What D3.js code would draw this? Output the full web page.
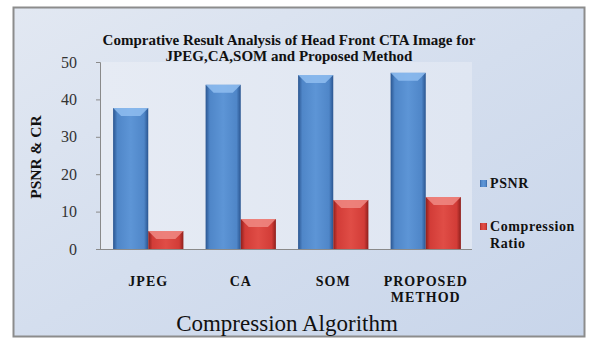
<html>
<head>
    <style>
        body { margin: 0; background: #fff; }
        svg { display: block; }
        svg text { font-family: "Liberation Serif", "Times New Roman", "DejaVu Serif", serif; }
    </style>
</head>
<body>
    <div id="chart"></div>
    <script src="https://cdn.jsdelivr.net/npm/d3@7"></script>
    <script>
        const categories = ["JPEG", "CA", "SOM", "PROPOSED METHOD"];
        const psnr = [37.7, 43.9, 46.5, 47.1];
        const compressionRatio = [4.8, 8.0, 13.1, 13.9];
        const yTicks = [0, 10, 20, 30, 40, 50];
        const seriesNames = ["PSNR", "Compression Ratio"];

        const width = 592, height = 343;
        const plot = { left: 100, right: 472, top: 62, bottom: 249 };
        const serif = "Liberation Serif, Times New Roman, DejaVu Serif, serif";

        const svg = d3.select("#chart").append("svg")
            .attr("width", width).attr("height", height);

        const defs = svg.append("defs");
        const bg = defs.append("linearGradient").attr("id", "bg")
            .attr("x1", 0).attr("y1", 0).attr("x2", 1).attr("y2", 1);
        bg.append("stop").attr("offset", 0).attr("stop-color", "#e2e8f2");
        bg.append("stop").attr("offset", 0.5).attr("stop-color", "#d4deee");
        bg.append("stop").attr("offset", 1).attr("stop-color", "#c8d5ea");

        const pbg = defs.append("linearGradient").attr("id", "pbg")
            .attr("x1", 0).attr("y1", 0).attr("x2", 1).attr("y2", 0);
        pbg.append("stop").attr("offset", 0).attr("stop-color", "#e6ebf4");
        pbg.append("stop").attr("offset", 1).attr("stop-color", "#dfe6f2");

        const barColors = [
            { id: "gBlue", edge: "#2a5590", mid: "#4f86c8", light: "#5d95d6", cap: "#8fbdf0" },
            { id: "gRed", edge: "#8e1f1c", mid: "#d23c37", light: "#e04d46", cap: "#f08a84" }
        ];
        barColors.forEach(c => {
            const g = defs.append("linearGradient").attr("id", c.id)
                .attr("x1", 0).attr("y1", 0).attr("x2", 1).attr("y2", 0);
            g.append("stop").attr("offset", 0).attr("stop-color", c.edge);
            g.append("stop").attr("offset", 0.12).attr("stop-color", c.mid);
            g.append("stop").attr("offset", 0.5).attr("stop-color", c.light);
            g.append("stop").attr("offset", 0.88).attr("stop-color", c.mid);
            g.append("stop").attr("offset", 1).attr("stop-color", c.edge);
        });

        // frame
        svg.append("rect").attr("x", 13.5).attr("y", 7.5).attr("width", 571).attr("height", 329)
            .attr("fill", "url(#bg)").attr("stroke", "#8c8c8c").attr("stroke-width", 2);

        svg.append("rect").attr("x", plot.left).attr("y", plot.top)
            .attr("width", plot.right - plot.left).attr("height", plot.bottom - plot.top)
            .attr("fill", "url(#pbg)");

        const x = d3.scaleBand().domain(categories)
            .range([plot.left + 2, plot.right]).paddingInner(0.24).paddingOuter(0.12);
        const xs = d3.scaleBand().domain(seriesNames).range([0, x.bandwidth()]);
        const y = d3.scaleLinear().domain([0, 50]).range([plot.bottom, plot.top]);

        // y axis
        const yAxis = svg.append("g").attr("transform", `translate(${plot.left},0)`)
            .call(d3.axisLeft(y).tickValues(yTicks).tickSize(4).tickPadding(19));
        yAxis.attr("font-family", null);
        yAxis.select(".domain").attr("stroke", "#8a8a8a");
        yAxis.selectAll(".tick line").attr("stroke", "#8a8a8a");
        yAxis.selectAll("text").style("font-family", serif).attr("font-size", 16)
            .attr("fill", "#333");

        svg.append("line").attr("x1", plot.left).attr("x2", plot.right)
            .attr("y1", plot.bottom + 0.5).attr("y2", plot.bottom + 0.5).attr("stroke", "#8a8a8a");

        // bars
        const data = categories.map((c, i) => ({ cat: c, vals: [psnr[i], compressionRatio[i]] }));
        const groups = svg.selectAll(".grp").data(data).enter().append("g")
            .attr("class", "grp").attr("transform", d => `translate(${x(d.cat)},0)`);

        groups.each(function (d) {
            const g = d3.select(this);
            d.vals.forEach((v, k) => {
                const bx = xs(seriesNames[k]), bw = xs.bandwidth();
                const top = y(v), c = barColors[k];
                g.append("rect").attr("x", bx).attr("y", top)
                    .attr("width", bw).attr("height", y(0) - top)
                    .attr("fill", `url(#${c.id})`);
                const bev = 8;
                g.append("path")
                    .attr("d", `M${bx},${top}L${bx + bw},${top}L${bx + bw - bev},${top + bev}L${bx + bev},${top + bev}Z`)
                    .attr("fill", c.cap).attr("opacity", 0.85);
            });
        });

        // x labels
        const xl = svg.selectAll(".xl").data(categories).enter().append("text")
            .attr("class", "xl")
            .attr("x", d => x(d) + x.bandwidth() / 2)
            .attr("y", 286)
            .attr("text-anchor", "middle")
            .attr("font-weight", "bold").attr("font-size", 14)
            .attr("letter-spacing", 1).attr("fill", "#111");
        xl.each(function (d) {
            const words = d.split(" ");
            d3.select(this).selectAll("tspan").data(words).enter().append("tspan")
                .attr("x", x(d) + x.bandwidth() / 2)
                .attr("dy", (w, i) => i === 0 ? 0 : 16)
                .text(w => w);
        });

        // titles
        svg.append("text").attr("x", 289).attr("y", 45).attr("text-anchor", "middle")
            .attr("font-weight", "bold").attr("font-size", 15)
            .attr("fill", "#111")
            .selectAll("tspan")
            .data(["Comprative Result Analysis of Head Front CTA  Image for", "JPEG,CA,SOM and Proposed Method"])
            .enter().append("tspan").attr("x", 289).attr("dy", (d, i) => i === 0 ? 0 : 16).text(d => d);

        svg.append("text").attr("transform", "translate(41,157) rotate(-90)")
            .attr("text-anchor", "middle").attr("font-weight", "bold")
            .attr("font-size", 15.5).attr("fill", "#111").text("PSNR & CR");

        svg.append("text").attr("x", 287).attr("y", 331).attr("text-anchor", "middle")
            .attr("font-size", 23).attr("fill", "#111")
            .text("Compression Algorithm");

        // legend
        const legend = svg.append("g").attr("transform", "translate(480,0)");
        const legendY = [183, 226];
        seriesNames.forEach((s, k) => {
            legend.append("rect").attr("x", 0).attr("y", legendY[k] - 3).attr("width", 7).attr("height", 7)
                .attr("fill", `url(#${barColors[k].id})`);
            const t = legend.append("text").attr("x", 10).attr("y", legendY[k] + 5)
                .attr("font-weight", "bold").attr("font-size", 14)
                .attr("letter-spacing", 0.6).attr("fill", "#111");
            const words = s === "Compression Ratio" ? ["Compression", "Ratio"] : [s];
            t.selectAll("tspan").data(words).enter().append("tspan")
                .attr("x", 10).attr("dy", (w, i) => i === 0 ? 0 : 17).text(w => w);
        });
    </script>
</body>
</html>
